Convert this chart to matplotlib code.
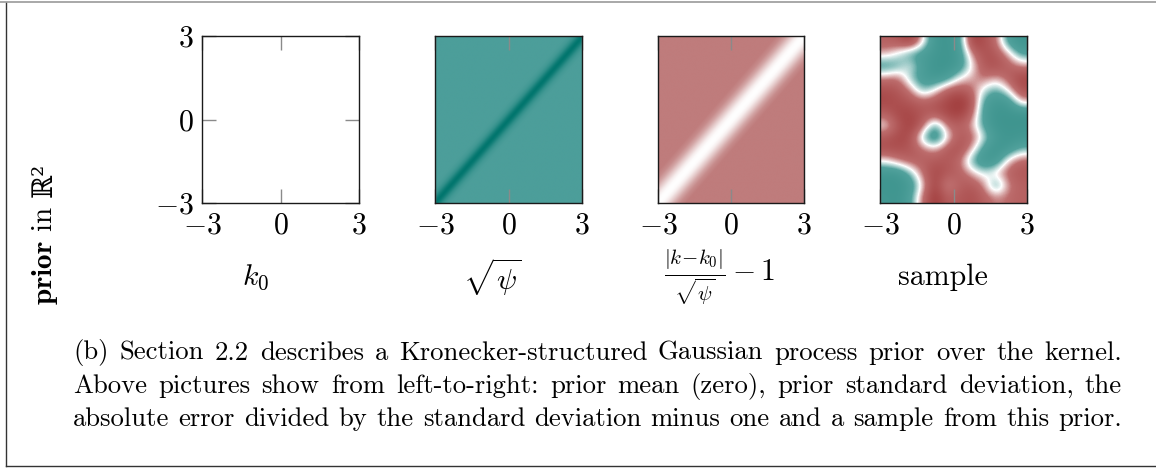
import numpy as np
import matplotlib
matplotlib.use("Agg")
import matplotlib.pyplot as plt
from matplotlib.colors import LinearSegmentedColormap
from matplotlib.lines import Line2D

plt.rcParams["mathtext.fontset"] = "cm"
plt.rcParams["font.family"] = "serif"
plt.rcParams["font.serif"] = ["cmr10"]
plt.rcParams["axes.unicode_minus"] = False

# --- data -------------------------------------------------------------
ticks = [-3, 0, 3]
tick_labels = [r"$-3$", r"$0$", r"$3$"]
panel_labels = [r"$k_0$", r"$\sqrt{\psi}$",
                r"$\frac{|k\!-\!k_0|}{\sqrt{\psi}}-1$", "sample"]
ylabel_a = r"$\mathbf{prior}$ in"
ylabel_b = "ℝ²"

# prior std: profile against distance from the diagonal |k - k'|
std_dist = [0.0, 0.1, 0.2, 0.3, 0.45, 0.65, 6.0]
std_val = [0.0, 0.12, 0.38, 0.65, 0.88, 1.0, 1.0]

# normalised error: profile against distance from the diagonal
err_dist = [0.0, 0.15, 0.3, 0.5, 0.7, 0.9, 1.15, 6.0]
err_val = [0.0, 0.03, 0.14, 0.4, 0.68, 0.88, 1.0, 1.0]

sample_grid = np.array([
    [0.5, 0.6, 0.9, 0.1, -0.8, -0.9, -0.6, 0.9, 0.7, 0.4, -0.6, -0.9],
    [0.2, -0.1, -0.5, -0.6, -0.8, -0.9, -0.7, 0.3, 0.7, 0.6, 0.2, -0.5],
    [-0.6, -0.4, 0.0, -0.6, -0.9, -0.9, -0.7, 0.0, 0.6, 0.7, 0.5, 0.3],
    [0.3, 0.4, -0.3, -0.6, -0.8, -0.6, 0.0, 0.2, 0.4, 0.2, 0.5, 0.8],
    [0.7, 0.6, 0.3, -0.4, 0.0, 0.5, 0.6, 0.4, -0.1, -0.4, 0.1, 0.7],
    [0.8, 0.7, 0.6, 0.5, 0.6, 0.8, 1.0, 0.7, -0.5, -0.8, -0.7, 0.2],
    [0.5, 0.8, 0.8, 0.6, 0.6, 0.8, 0.9, 0.5, -0.6, -0.9, -0.9, -0.9],
    [0.0, 0.6, 0.9, 0.5, -0.5, 0.4, 0.5, 0.2, -0.5, -0.9, -0.9, -0.9],
    [0.6, 0.8, 0.7, -0.3, -0.9, 0.0, 0.6, 0.5, -0.1, -0.7, -0.9, -0.8],
    [0.7, 0.7, 0.6, 0.4, 0.2, 0.6, 0.7, 0.2, -0.6, -0.9, -0.7, -0.3],
    [0.0, 0.3, 0.5, 0.5, 0.6, 0.6, 0.4, -0.4, -0.8, -0.7, 0.2, 0.5],
    [-0.8, -0.8, -0.3, 0.4, 0.8, 0.6, 0.5, 0.2, -0.1, 0.2, 0.5, 0.6],
    [-0.9, -0.9, -0.7, 0.1, 0.9, 0.1, 0.5, 0.6, 0.3, -0.6, 0.3, 0.5],
    [-0.8, -0.9, -0.5, 0.4, 1.0, 0.5, 0.6, 0.7, 0.5, 0.3, 0.4, 0.5],
])

caption_lines = [
    "(b) Section 2.2 describes a Kronecker-structured Gaussian process prior over the kernel.",
    "Above pictures show from left-to-right: prior mean (zero), prior standard deviation, the",
    "absolute error divided by the standard deviation minus one and a sample from this prior.",
]

# --- colours ----------------------------------------------------------
teal_cmap = LinearSegmentedColormap.from_list("teal", ["#00756d", "#4c9e9a"])
red_cmap = LinearSegmentedColormap.from_list("red", ["#ffffff", "#bf7c7c"])
div_cmap = LinearSegmentedColormap.from_list(
    "div", [(0.0, "#3c938d"), (0.3, "#52a29d"), (0.5, "#ffffff"),
            (0.68, "#bd6d6d"), (1.0, "#9e3737")])

W, H = 1156, 468
fig = plt.figure(figsize=(W / 100, H / 100), dpi=100)

boxes = [(202, 157), (435, 147), (658, 146), (880, 147)]
top, bottom = 36, 203

g = np.linspace(-3, 3, 400)
X, Y = np.meshgrid(g, g)
D = np.abs(X - Y)
fields = [
    None,
    (np.interp(D, std_dist, std_val), teal_cmap, "bilinear"),
    (np.interp(D, err_dist, err_val), red_cmap, "bilinear"),
    (sample_grid, div_cmap, "bicubic"),
]

for i, (left, width) in enumerate(boxes):
    ax = fig.add_axes([left / W, 1 - bottom / H, width / W, (bottom - top) / H])
    f = fields[i]
    if f is not None:
        data, cmap, interp = f
        if i == 3:
            ax.imshow(data, cmap=cmap, vmin=-1, vmax=1, extent=[-3, 3, -3, 3],
                      origin="upper", aspect="auto", interpolation=interp)
        else:
            ax.imshow(data, cmap=cmap, vmin=0, vmax=1, extent=[-3, 3, -3, 3],
                      origin="lower", aspect="auto", interpolation=interp)
    ax.set_xlim(-3, 3)
    ax.set_ylim(-3, 3)
    ax.set_xticks(ticks)
    ax.set_xticklabels(tick_labels)
    if i == 0:
        ax.set_yticks(ticks)
        ax.set_yticklabels(tick_labels)
        ax.tick_params(axis="y", left=True, right=True, pad=6)
    else:
        ax.set_yticks([])
    ax.tick_params(direction="in", length=10, width=1.0, color="#8a8a8a",
                   labelsize=21.5, top=True, bottom=True)
    ax.tick_params(axis="x", pad=6.5)
    for s in ax.spines.values():
        s.set_linewidth(1.0)
        s.set_color("#1a1a1a")

label_x = [256, 492, 720, 943]
for lx, lab in zip(label_x, panel_labels):
    fig.text(lx / W, 1 - 277 / H, lab, ha="center", va="center", fontsize=21.5)

renderer = fig.canvas.get_renderer()

# rotated y label, two pieces on one baseline
base_x, start_y = 52, 305
ta = fig.text(base_x / W, 1 - start_y / H, ylabel_a, rotation=90,
              rotation_mode="anchor", ha="left", va="baseline", fontsize=21)
len_a = ta.get_window_extent(renderer).height
fig.text(base_x / W, 1 - (start_y - len_a - 9) / H, ylabel_b, rotation=90,
         rotation_mode="anchor", ha="left", va="baseline", fontsize=20,
         family=["DejaVu Serif"])

# justified caption
x0, x1 = 73, 1122
for line, yc in zip(caption_lines, [353, 386, 419]):
    words = line.split(" ")
    texts = [fig.text(0, 1 - yc / H, w, ha="left", va="center", fontsize=19.2)
             for w in words]
    widths = [t.get_window_extent(renderer).width for t in texts]
    gap = (x1 - x0 - sum(widths)) / (len(words) - 1)
    x = x0
    for t, w in zip(texts, widths):
        t.set_x(x / W)
        x += w + gap

# outer frame
fig.add_artist(Line2D([0, 1], [1 - 2 / H, 1 - 2 / H], color="#999999", lw=1.2))
fig.add_artist(Line2D([6 / W, 6 / W], [1 - 466 / H, 1 - 3 / H], color="#333333", lw=1.0))
fig.add_artist(Line2D([6 / W, 1], [1 - 466 / H, 1 - 466 / H], color="#333333", lw=1.0))

fig.savefig("out.png", dpi=100)
